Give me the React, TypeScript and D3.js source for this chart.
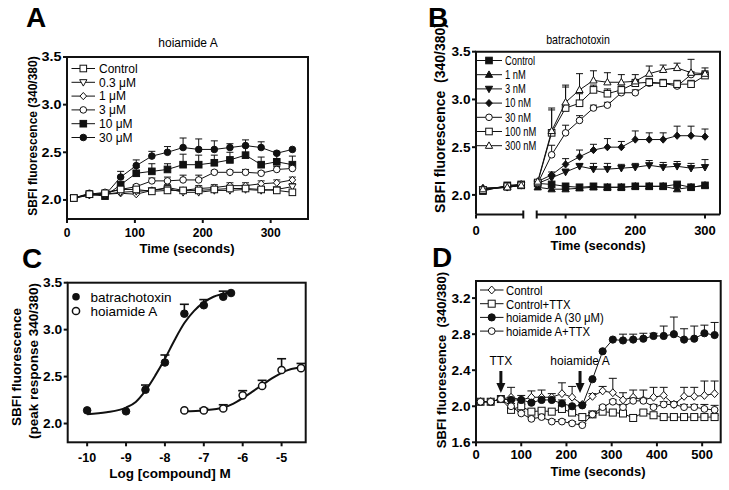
import React from "react";
import * as d3 from "d3";

const SANS = "'Liberation Sans', Arial, Helvetica, sans-serif";
const INK = "#111";

// ---------- panel A : hoiamide A time course ----------
const timesA = [10, 33, 56, 79, 102, 125, 148, 171, 194, 217, 240, 263, 286, 309, 332];
const controlA = [2.02, 2.06, 2.07, 2.11, 2.11, 2.09, 2.10, 2.10, 2.10, 2.11, 2.12, 2.12, 2.11, 2.10, 2.08];
const controlAErr = [0, 0, 0, 0.02, 0.02, 0.02, 0.02, 0.02, 0.02, 0.02, 0.02, 0.02, 0.02, 0.02, 0.02];
const a03 = [2.02, 2.05, 2.06, 2.08, 2.09, 2.10, 2.12, 2.08, 2.08, 2.10, 2.10, 2.11, 2.10, 2.11, 2.14];
const a03Err = [0, 0, 0, 0.02, 0.02, 0.02, 0.03, 0.02, 0.02, 0.02, 0.02, 0.02, 0.02, 0.02, 0.03];
const a1 = [2.02, 2.05, 2.06, 2.07, 2.06, 2.10, 2.13, 2.10, 2.12, 2.13, 2.15, 2.15, 2.17, 2.18, 2.21];
const a1Err = [0, 0, 0, 0.02, 0.02, 0.02, 0.03, 0.03, 0.03, 0.03, 0.03, 0.03, 0.03, 0.03, 0.03];
const a3 = [2.02, 2.06, 2.08, 2.11, 2.14, 2.20, 2.20, 2.21, 2.21, 2.29, 2.29, 2.29, 2.28, 2.32, 2.33];
const a3Err = [0, 0, 0, 0.02, 0.02, 0.03, 0.04, 0.05, 0.05, 0.02, 0.02, 0.03, 0.02, 0.03, 0.02];
const a10 = [2.02, 2.06, 2.04, 2.16, 2.28, 2.30, 2.32, 2.37, 2.37, 2.39, 2.42, 2.47, 2.37, 2.40, 2.37];
const a10Err = [0, 0, 0, 0.02, 0.06, 0.08, 0.06, 0.11, 0.10, 0.08, 0.08, 0.09, 0.08, 0.08, 0.09];
const a30 = [2.02, 2.07, 2.05, 2.24, 2.36, 2.46, 2.50, 2.55, 2.53, 2.53, 2.55, 2.57, 2.55, 2.49, 2.53];
const a30Err = [0, 0, 0, 0.06, 0.06, 0.05, 0.06, 0.10, 0.11, 0.09, 0.04, 0.06, 0.06, 0.02, 0];
const ticksA = { x: [0, 100, 200, 300], y: [2.0, 2.5, 3.0, 3.5] };

// ---------- panel B : batrachotoxin time course (split time axis) ----------
const timesB1 = [10, 45, 65];
const timesB2 = [60, 80, 100, 120, 140, 160, 180, 200, 220, 240, 260, 280, 300];
// first 3 values belong to the left segment, the rest to the right one
const controlB = [2.04, 2.10, 2.11, 2.12, 2.11, 2.09, 2.08, 2.09, 2.08, 2.08, 2.09, 2.09, 2.09, 2.11, 2.08, 2.10];
const b1 = [2.07, 2.08, 2.10, 2.08, 2.06, 2.06, 2.07, 2.08, 2.08, 2.08, 2.09, 2.09, 2.09, 2.06, 2.08, 2.10];
const b3 = [2.06, 2.08, 2.10, 2.12, 2.18, 2.24, 2.30, 2.27, 2.27, 2.28, 2.29, 2.31, 2.29, 2.30, 2.28, 2.29];
const b3Err = [0, 0, 0, 0, 0.02, 0.03, 0.03, 0.06, 0.06, 0.04, 0.04, 0.05, 0.05, 0.05, 0.05, 0.08];
const b10 = [2.07, 2.08, 2.11, 2.14, 2.21, 2.32, 2.40, 2.47, 2.50, 2.50, 2.58, 2.58, 2.58, 2.62, 2.62, 2.61];
const b10Err = [0, 0, 0, 0, 0.03, 0.06, 0.07, 0.06, 0.09, 0.06, 0.09, 0.07, 0.07, 0.10, 0.10, 0.08];
const b30 = [2.06, 2.09, 2.11, 2.12, 2.42, 2.65, 2.78, 2.91, 2.94, 3.07, 3.07, 3.17, 3.17, 3.14, 3.26, 3.26];
const b30Err = [0, 0, 0, 0, 0.10, 0.08, 0.05, 0.03, 0.03, 0.03, 0.03, 0.03, 0.03, 0.03, 0.03, 0.03];
const b100 = [2.05, 2.09, 2.10, 2.13, 2.65, 2.91, 2.96, 3.10, 3.06, 3.10, 3.17, 3.18, 3.17, 3.16, 3.16, 3.25];
const b100Err = [0, 0, 0, 0, 0.24, 0.22, 0.10, 0.05, 0.05, 0.04, 0.04, 0.04, 0.04, 0.04, 0.04, 0.05];
const b300 = [2.06, 2.08, 2.10, 2.14, 2.67, 2.97, 3.10, 3.20, 3.18, 3.18, 3.19, 3.27, 3.31, 3.33, 3.28, 3.27];
const b300Err = [0, 0, 0, 0, 0.24, 0.18, 0.17, 0.10, 0.10, 0.08, 0.07, 0.08, 0.05, 0.05, 0.14, 0.06];
const ticksB = { x1: [0], x2: [100, 200, 300], y: [2.0, 2.5, 3.0, 3.5] };

// ---------- panel C : concentration response ----------
const btxLog = [-10, -9, -8.5, -8, -7.5, -7, -6.5, -6.3];
const btxPeak = [2.14, 2.13, 2.36, 2.65, 3.17, 3.26, 3.35, 3.39];
const btxErr = [0, 0, 0.05, 0.08, 0.10, 0.06, 0.06, 0];
const hoiLog = [-7.5, -7, -6.5, -6, -5.5, -5, -4.5];
const hoiPeak = [2.14, 2.14, 2.16, 2.30, 2.40, 2.57, 2.59];
const hoiErr = [0, 0.02, 0.04, 0.05, 0.06, 0.12, 0.05];
// fitted curves
const btxFitLog = [-10, -9.5, -9, -8.75, -8.5, -8.25, -8, -7.75, -7.5, -7.25, -7, -6.75, -6.5, -6.3];
const btxFitVal = [2.10, 2.12, 2.17, 2.23, 2.35, 2.51, 2.69, 2.89, 3.07, 3.20, 3.29, 3.35, 3.38, 3.40];
const hoiFitLog = [-7.5, -7, -6.5, -6.25, -6, -5.75, -5.5, -5.25, -5, -4.75, -4.5];
const hoiFitVal = [2.13, 2.14, 2.17, 2.21, 2.27, 2.34, 2.41, 2.48, 2.54, 2.58, 2.60];
const ticksC = { x: [-10, -9, -8, -7, -6, -5], y: [2.0, 2.5, 3.0, 3.5] };

// ---------- panel D : TTX block ----------
const timesD = [10, 32.5, 55, 77.5, 100, 122.5, 145, 167.5, 190, 212.5, 235, 257.5, 280, 302.5, 325, 347.5, 370, 392.5, 415, 437.5, 460, 482.5, 505, 527.5];
const controlD = [2.05, 2.05, 2.08, 2.10, 2.07, 2.10, 2.10, 2.10, 2.14, 2.10, 2.02, 2.11, 2.17, 2.15, 2.07, 2.10, 2.07, 2.10, 2.12, 2.02, 2.11, 2.11, 2.12, 2.14];
const controlDErr = [0, 0, 0, 0.11, 0.05, 0.07, 0.08, 0.04, 0.12, 0.12, 0.02, 0.03, 0.05, 0.16, 0.08, 0.08, 0.11, 0.11, 0.09, 0.02, 0.10, 0.10, 0.16, 0.14];
const ttxD = [2.05, 2.05, 2.08, 1.96, 2.00, 1.94, 1.95, 1.94, 1.97, 1.93, 1.88, 1.91, 1.94, 1.93, 1.92, 1.87, 1.93, 1.90, 1.88, 1.88, 1.88, 1.88, 1.88, 1.88];
const ttxDErr = [0, 0, 0, 0.02, 0.02, 0.02, 0.02, 0.02, 0.02, 0.02, 0.02, 0.02, 0.02, 0.02, 0.02, 0.02, 0.02, 0.02, 0.02, 0.02, 0.02, 0.02, 0.02, 0.02];
const hoiD = [2.05, 2.05, 2.08, 2.07, 2.07, 2.04, 2.07, 2.07, 2.03, 2.00, 2.01, 2.30, 2.61, 2.74, 2.73, 2.74, 2.75, 2.78, 2.78, 2.80, 2.74, 2.75, 2.81, 2.79];
const hoiDErr = [0, 0, 0, 0, 0, 0, 0, 0, 0.04, 0, 0, 0, 0, 0, 0.07, 0.06, 0.06, 0.03, 0.11, 0.19, 0.12, 0.14, 0.09, 0.14];
const hoiTtxD = [2.05, 2.05, 2.08, 2.00, 1.92, 1.86, 1.88, 1.83, 1.83, 1.81, 1.79, 1.91, 1.99, 2.05, 1.99, 2.06, 2.06, 1.99, 2.02, 2.02, 1.99, 1.99, 1.97, 1.96];
const hoiTtxDErr = [0, 0, 0, 0.03, 0.02, 0.02, 0.02, 0.02, 0.02, 0.02, 0.02, 0.02, 0.02, 0.02, 0.03, 0.03, 0.03, 0.03, 0.03, 0.03, 0.03, 0.03, 0.05, 0.05];
const annotD = [{ t: 55, label: "TTX" }, { t: 230, label: "hoiamide A" }];
const ticksD = { x: [0, 100, 200, 300, 400, 500], y: [1.6, 2.0, 2.4, 2.8, 3.2] };

type Shape = "circle" | "square" | "triUp" | "triDown" | "diamond";
type Lin = d3.ScaleLinear<number, number>;

function Marker({ shape, x, y, filled, s = 3.5 }: { shape: Shape; x: number; y: number; filled: boolean; s?: number }) {
  const st = { fill: filled ? INK : "#fff", stroke: INK, strokeWidth: 1 };
  if (shape === "circle") return <circle cx={x} cy={y} r={s} {...st} />;
  if (shape === "square") return <rect x={x - s} y={y - s} width={2 * s} height={2 * s} {...st} />;
  if (shape === "diamond") return <path d={`M${x},${y - s * 1.1}L${x + s},${y}L${x},${y + s * 1.1}L${x - s},${y}Z`} {...st} />;
  const k = shape === "triUp" ? 1 : -1;
  return <path d={`M${x},${y - k * s * 1.15}L${x + s * 1.1},${y + k * s * 0.8}L${x - s * 1.1},${y + k * s * 0.8}Z`} {...st} />;
}

function Series({ xs, ys, errs, x, y, shape, filled, s = 3.5, cap = 7, lw = 1 }:
  { xs: number[]; ys: number[]; errs?: number[]; x: Lin; y: Lin; shape: Shape; filled: boolean; s?: number; cap?: number; lw?: number }) {
  const line = d3.line<number>().x((_, i) => x(xs[i])).y((d) => y(d));
  return (
    <g>
      {errs && errs.map((e, i) => e > 0 ? (
        <g key={i} stroke={INK} strokeWidth={1}>
          <line x1={x(xs[i])} x2={x(xs[i])} y1={y(ys[i])} y2={y(ys[i] + e)} />
          <line x1={x(xs[i]) - cap / 2} x2={x(xs[i]) + cap / 2} y1={y(ys[i] + e)} y2={y(ys[i] + e)} />
        </g>
      ) : null)}
      <path d={line(ys) || ""} fill="none" stroke={INK} strokeWidth={lw} />
      {ys.map((v, i) => <Marker key={i} shape={shape} x={x(xs[i])} y={y(v)} filled={filled} s={s} />)}
    </g>
  );
}

// condensed look: the narrow font is not available, so squeeze the regular one
function Narrow({ x, y, fs, sx = 0.8, anchor = "start", children }:
  { x: number; y: number; fs: number; sx?: number; anchor?: string; children: React.ReactNode }) {
  return (
    <text transform={`translate(${x},${y}) scale(${sx},1)`} dy="0.36em" fontSize={fs} textAnchor={anchor}>{children}</text>
  );
}

function YTicks({ y, ticks, x0, fs, sx = 1.15 }: { y: Lin; ticks: number[]; x0: number; fs: number; sx?: number }) {
  return (
    <g>
      {ticks.map((t) => (
        <g key={t}>
          <line x1={x0 - 4} x2={x0} y1={y(t)} y2={y(t)} stroke={INK} strokeWidth={2} />
          <text transform={`translate(${x0 - 5.5},${y(t)}) scale(${sx},1)`} dy="0.36em" textAnchor="end" fontSize={fs} fontWeight="bold">{t.toFixed(1)}</text>
        </g>
      ))}
    </g>
  );
}

function XTicks({ x, ticks, y0, fs, labelY }: { x: Lin; ticks: number[]; y0: number; fs: number; labelY: number }) {
  return (
    <g>
      {ticks.map((t) => (
        <g key={t}>
          <line x1={x(t)} x2={x(t)} y1={y0} y2={y0 + 4} stroke={INK} strokeWidth={2} />
          <text x={x(t)} y={labelY} textAnchor="middle" fontSize={fs} fontWeight="bold">{t}</text>
        </g>
      ))}
    </g>
  );
}

function VTitle({ cx, cy, fs, children }: { cx: number; cy: number; fs: number; children: React.ReactNode }) {
  return (
    <text transform={`translate(${cx},${cy}) rotate(-90)`} dy="0.35em" textAnchor="middle" fontSize={fs} fontWeight="bold" style={{ whiteSpace: "pre" }}>
      {children}
    </text>
  );
}

function PanelA() {
  const x = d3.scaleLinear().domain([0, 355]).range([67, 308]);
  const y = d3.scaleLinear().domain([1.8, 3.5]).range([219, 57]);
  const series = [
    { label: "Control", ys: controlA, errs: controlAErr, shape: "square" as Shape, filled: false },
    { label: "0.3 μM", ys: a03, errs: a03Err, shape: "triDown" as Shape, filled: false },
    { label: "1 μM", ys: a1, errs: a1Err, shape: "diamond" as Shape, filled: false },
    { label: "3 μM", ys: a3, errs: a3Err, shape: "circle" as Shape, filled: false },
    { label: "10 μM", ys: a10, errs: a10Err, shape: "square" as Shape, filled: true },
    { label: "30 μM", ys: a30, errs: a30Err, shape: "circle" as Shape, filled: true },
  ];
  return (
    <g>
      <text x={26} y={27} fontSize={28} fontWeight="bold">A</text>
      <text x={188} y={47} fontSize={12} textAnchor="middle">hoiamide A</text>
      {series.slice().reverse().map((s) => (
        <Series key={s.label} xs={timesA} ys={s.ys} errs={s.errs} x={x} y={y} shape={s.shape} filled={s.filled} s={3.3} cap={7} />
      ))}
      {series.map((s, i) => {
        const ly = 68.5 + i * 13.8;
        return (
          <g key={s.label}>
            <line x1={71.5} x2={95} y1={ly} y2={ly} stroke={INK} strokeWidth={1} />
            <Marker shape={s.shape} x={83.3} y={ly} filled={s.filled} s={3.3} />
            <text x={99} y={ly} dy="0.36em" fontSize={12}>{s.label}</text>
          </g>
        );
      })}
      <rect x={67} y={57} width={241} height={162} fill="none" stroke={INK} strokeWidth={2} />
      <YTicks y={y} ticks={ticksA.y} x0={67} fs={12} sx={1.2} />
      <XTicks x={x} ticks={ticksA.x} y0={219} fs={12} labelY={236.5} />
      <text x={187} y={253} textAnchor="middle" fontSize={13} fontWeight="bold">Time (seconds)</text>
      <VTitle cx={33} cy={136} fs={12}>SBFI fluorescence (340/380)</VTitle>
    </g>
  );
}

function PanelB() {
  const x1 = d3.scaleLinear().domain([0, 68]).range([476, 523.3]);
  const x2 = d3.scaleLinear().domain([60, 300]).range([537.7, 705]);
  const y = d3.scaleLinear().domain([1.8, 3.5]).range([214, 51.7]);
  const base = 214.5;
  const series = [
    { label: "Control", ys: controlB, errs: undefined, shape: "square" as Shape, filled: true },
    { label: "1 nM", ys: b1, errs: undefined, shape: "triUp" as Shape, filled: true },
    { label: "3 nM", ys: b3, errs: b3Err, shape: "triDown" as Shape, filled: true },
    { label: "10 nM", ys: b10, errs: b10Err, shape: "diamond" as Shape, filled: true },
    { label: "30 nM", ys: b30, errs: b30Err, shape: "circle" as Shape, filled: false },
    { label: "100 nM", ys: b100, errs: b100Err, shape: "square" as Shape, filled: false },
    { label: "300 nM", ys: b300, errs: b300Err, shape: "triUp" as Shape, filled: false },
  ];
  return (
    <g>
      <text x={428} y={27} fontSize={28} fontWeight="bold">B</text>
      <Narrow x={578} y={39} fs={12.5} sx={0.85} anchor="middle">batrachotoxin</Narrow>
      {series.map((s) => (
        <g key={s.label}>
          <Series xs={timesB1} ys={s.ys.slice(0, 3)} errs={s.errs ? s.errs.slice(0, 3) : undefined} x={x1} y={y} shape={s.shape} filled={s.filled} s={3.3} />
          <Series xs={timesB2} ys={s.ys.slice(3)} errs={s.errs ? s.errs.slice(3) : undefined} x={x2} y={y} shape={s.shape} filled={s.filled} s={3.3} />
        </g>
      ))}
      {series.map((s, i) => {
        const ly = 60.5 + i * 14.2;
        return (
          <g key={s.label}>
            <line x1={477} x2={502} y1={ly} y2={ly} stroke={INK} strokeWidth={1} />
            <Marker shape={s.shape} x={489} y={ly} filled={s.filled} s={3.3} />
            <Narrow x={505} y={ly} fs={12} sx={0.78}>{s.label}</Narrow>
          </g>
        );
      })}
      <g stroke={INK} strokeWidth={2} fill="none">
        <path d={`M476,${base}V51.7H720V${base}`} />
        <line x1={476} x2={523.3} y1={base} y2={base} />
        <line x1={523.3} x2={523.3} y1={base - 4} y2={base + 4} />
        <line x1={536.7} x2={720} y1={base} y2={base} />
        <line x1={536.7} x2={536.7} y1={base - 4} y2={base + 4} />
      </g>
      <YTicks y={y} ticks={ticksB.y} x0={476} fs={13} sx={1.05} />
      <XTicks x={x1} ticks={ticksB.x1} y0={base} fs={13} labelY={235} />
      <XTicks x={x2} ticks={ticksB.x2} y0={base} fs={13} labelY={235} />
      <text x={598} y={250} textAnchor="middle" fontSize={13} fontWeight="bold">Time (seconds)</text>
      <VTitle cx={440} cy={118} fs={14}>SBFI fluorescence  (340/380)</VTitle>
    </g>
  );
}

function PanelC() {
  const x = d3.scaleLinear().domain([-10.5, -4.38]).range([67.7, 305.7]);
  const y = d3.scaleLinear().domain([1.8, 3.5]).range([442.3, 282.7]);
  const fit = d3.line<number>().curve(d3.curveMonotoneX);
  const btxFit = fit(btxFitLog.map((v, i) => [x(v), y(btxFitVal[i])] as [number, number]));
  const hoiFit = fit(hoiFitLog.map((v, i) => [x(v), y(hoiFitVal[i])] as [number, number]));
  const bars = (xs: number[], ys: number[], es: number[]) =>
    es.map((e, i) => e > 0 ? (
      <g key={i} stroke={INK} strokeWidth={1.6}>
        <line x1={x(xs[i])} x2={x(xs[i])} y1={y(ys[i])} y2={y(ys[i] + e)} />
        <line x1={x(xs[i]) - 4.5} x2={x(xs[i]) + 4.5} y1={y(ys[i] + e)} y2={y(ys[i] + e)} />
      </g>
    ) : null);
  return (
    <g>
      <text x={22} y={268} fontSize={28} fontWeight="bold">C</text>
      {bars(btxLog, btxPeak, btxErr)}
      {bars(hoiLog, hoiPeak, hoiErr)}
      <path d={btxFit || ""} fill="none" stroke={INK} strokeWidth={2} />
      <path d={hoiFit || ""} fill="none" stroke={INK} strokeWidth={2} />
      {btxLog.map((v, i) => <Marker key={"b" + i} shape="circle" x={x(v)} y={y(btxPeak[i])} filled s={3.8} />)}
      {hoiLog.map((v, i) => <circle key={"h" + i} cx={x(v)} cy={y(hoiPeak[i])} r={3.6} fill="#fff" stroke={INK} strokeWidth={1.5} />)}
      <circle cx={76} cy={296.7} r={3.8} fill={INK} />
      <text x={90.5} y={296.7} dy="0.36em" fontSize={13.5}>batrachotoxin</text>
      <circle cx={76} cy={311} r={3.6} fill="#fff" stroke={INK} strokeWidth={1.5} />
      <text x={90.5} y={311} dy="0.36em" fontSize={13.5}>hoiamide A</text>
      <rect x={67.7} y={282.7} width={238} height={159.6} fill="none" stroke={INK} strokeWidth={2} />
      <YTicks y={y} ticks={ticksC.y} x0={67.7} fs={12.5} sx={1.1} />
      <XTicks x={x} ticks={ticksC.x} y0={442.3} fs={12.5} labelY={462} />
      <text x={170} y={478} textAnchor="middle" fontSize={13.5} fontWeight="bold">Log [compound] M</text>
      <VTitle cx={16.5} cy={367} fs={13.5}>SBFI fluorescence</VTitle>
      <VTitle cx={33.5} cy={361} fs={13.5}>(peak response 340/380)</VTitle>
    </g>
  );
}

function PanelD() {
  const x = d3.scaleLinear().domain([0, 541]).range([476, 720.7]);
  const y = d3.scaleLinear().domain([1.6, 3.39]).range([442.3, 281]);
  const series = [
    { label: "Control", ys: controlD, errs: controlDErr, shape: "diamond" as Shape, filled: false, s: 3.6 },
    { label: "Control+TTX", ys: ttxD, errs: ttxDErr, shape: "square" as Shape, filled: false, s: 3.5 },
    { label: "hoiamide A (30 μM)", ys: hoiD, errs: hoiDErr, shape: "circle" as Shape, filled: true, s: 3.6 },
    { label: "hoiamide A+TTX", ys: hoiTtxD, errs: hoiTtxDErr, shape: "circle" as Shape, filled: false, s: 3.4 },
  ];
  return (
    <g>
      <text x={432} y={267} fontSize={28} fontWeight="bold">D</text>
      {series.map((s) => (
        <Series key={s.label} xs={timesD} ys={s.ys} errs={s.errs} x={x} y={y} shape={s.shape} filled={s.filled} s={s.s} cap={8} />
      ))}
      {series.map((s, i) => {
        const ly = 290 + i * 13.7;
        return (
          <g key={s.label}>
            <line x1={480} x2={503.5} y1={ly} y2={ly} stroke={INK} strokeWidth={1} />
            <Marker shape={s.shape} x={491.7} y={ly} filled={s.filled} s={s.s} />
            <Narrow x={506} y={ly} fs={13.5} sx={0.84}>{s.label}</Narrow>
          </g>
        );
      })}
      {annotD.map((a) => (
        <g key={a.label}>
          <text x={x(a.t)} y={365} textAnchor="middle" fontSize={12}>{a.label}</text>
          <line x1={x(a.t)} x2={x(a.t)} y1={371} y2={384} stroke={INK} strokeWidth={3} />
          <path d={`M${x(a.t) - 4.5},383L${x(a.t) + 4.5},383L${x(a.t)},393Z`} fill={INK} />
        </g>
      ))}
      <rect x={476} y={281} width={244.7} height={161.3} fill="none" stroke={INK} strokeWidth={2} />
      <YTicks y={y} ticks={ticksD.y} x0={476} fs={13} sx={1.05} />
      <XTicks x={x} ticks={ticksD.x} y0={442.3} fs={13} labelY={459} />
      <text x={598} y={476} textAnchor="middle" fontSize={13} fontWeight="bold">Time (seconds)</text>
      <VTitle cx={441.5} cy={360} fs={13}>SBFI fluorescence  (340/380)</VTitle>
    </g>
  );
}

export default function App() {
  return (
    <svg width={729} height={490} viewBox="0 0 729 490" fontFamily={SANS}
      style={{ position: "absolute", left: 0, top: 0, background: "#fff" }}>
      <rect width={729} height={490} fill="#fff" />
      <PanelA />
      <PanelB />
      <PanelC />
      <PanelD />
    </svg>
  );
}
